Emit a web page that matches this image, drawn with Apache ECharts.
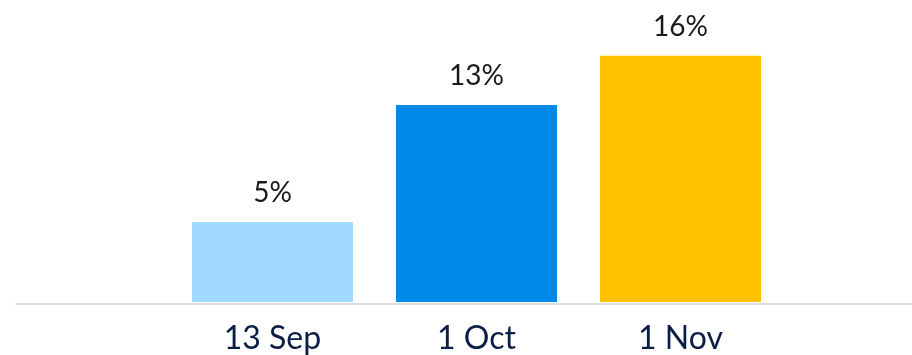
<!DOCTYPE html>
<html>
<head>
<meta charset="utf-8">
<script src="https://cdn.jsdelivr.net/npm/echarts@6/dist/echarts.min.js"></script>
<style>html,body{margin:0;padding:0;background:#fff}#c{width:912px;height:355px}</style>
</head>
<body>
<div id="c"></div>
<script>
const categories = ['13 Sep', '1 Oct', '1 Nov'];
const values = [5.2, 12.8, 16.0];
const colors = ['#a0daff', '#0089e7', '#ffc000'];

const chart = echarts.init(document.getElementById('c'), null, {renderer: 'canvas'});
chart.setOption({
  animation: false,
  backgroundColor: '#fff',
  grid: [
    {left: 170.5, right: 129.5, top: 25, bottom: 51},
    {left: 16, right: 0, top: 25, bottom: 51}
  ],
  xAxis: [
    {
      type: 'category', gridIndex: 0, data: categories,
      axisLine: {show: false}, axisTick: {show: false},
      axisLabel: {color: '#0b1e45', fontSize: 32, fontFamily: 'Lato', margin: 21}
    },
    {
      type: 'category', gridIndex: 1, data: [''],
      axisLine: {show: true, lineStyle: {color: '#dcdcdc', width: 2}},
      axisTick: {show: false}, axisLabel: {show: false}
    }
  ],
  yAxis: [
    {type: 'value', gridIndex: 0, min: 0, max: 18, show: false},
    {type: 'value', gridIndex: 1, min: 0, max: 18, show: false}
  ],
  series: [{
    type: 'bar', xAxisIndex: 0, yAxisIndex: 0,
    barWidth: 161,
    data: values.map((v, i) => ({value: v, itemStyle: {color: colors[i]}})),
    label: {
      show: true, position: 'top', distance: 15,
      color: '#1a1a1a', fontSize: 28, fontFamily: 'Lato',
      formatter: p => Math.round(p.value) + '%'
    }
  }]
});
</script>
</body>
</html>
